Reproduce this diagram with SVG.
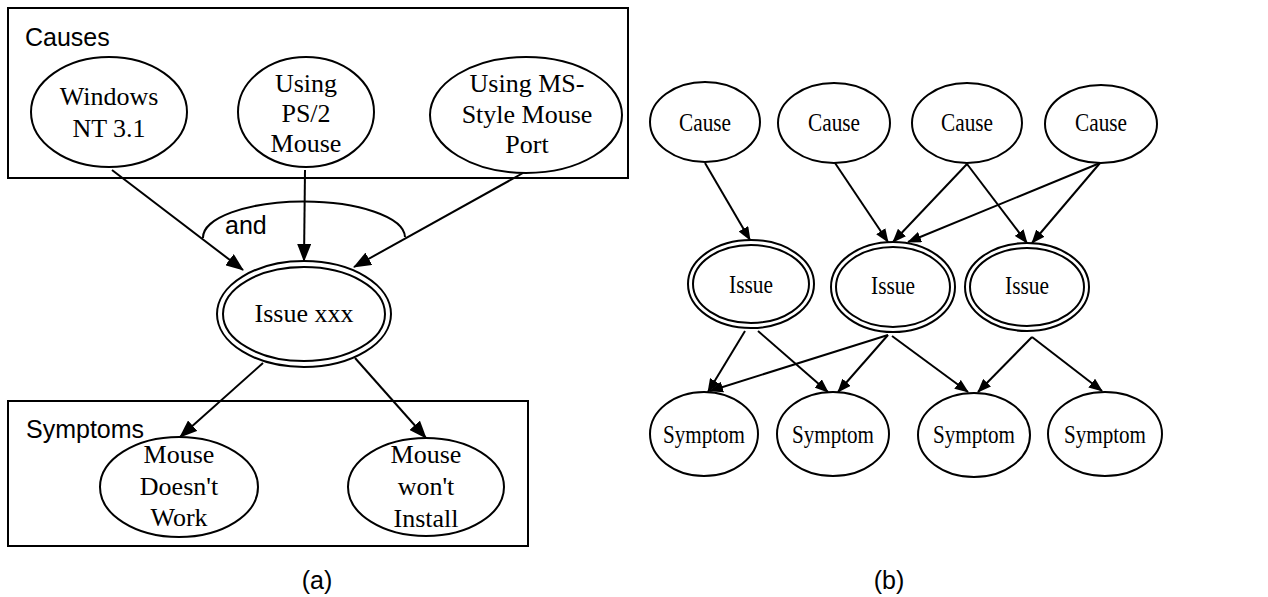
<svg xmlns="http://www.w3.org/2000/svg" width="1268" height="597" viewBox="0 0 1268 597">
<style>
.n{fill:#fff;stroke:#000;stroke-width:2}
.box{fill:none;stroke:#000;stroke-width:2}
.e{fill:none;stroke:#000;stroke-width:2}
.s{font-family:"Liberation Serif","Times New Roman",serif;font-size:26px;fill:#000;text-anchor:middle}
.sb{font-family:"Liberation Serif","Times New Roman",serif;font-size:26px;fill:#000;text-anchor:middle}
.h{font-family:"Liberation Sans",Arial,sans-serif;font-size:25px;fill:#000}
</style>
<defs>
<marker id="ah" markerUnits="userSpaceOnUse" markerWidth="18" markerHeight="14" refX="17" refY="7" orient="auto">
<path d="M0,0 L18,7 L0,14 z" fill="#000"/>
</marker>
<marker id="ahs" markerUnits="userSpaceOnUse" markerWidth="14" markerHeight="11" refX="13" refY="5.5" orient="auto">
<path d="M0,0 L14,5.5 L0,11 z" fill="#000"/>
</marker>
</defs>
<rect width="1268" height="597" fill="#fff"/>

<g id="panel-a">
<g id="causes-box"><rect class="box" x="8" y="8" width="620" height="170"/><text class="h" x="25" y="46">Causes</text></g>
<g id="symptoms-box"><rect class="box" x="8" y="401" width="520" height="145"/><text class="h" x="26" y="438">Symptoms</text></g>

<g id="a-connectors">
<line class="e" x1="112" y1="170" x2="243" y2="270" marker-end="url(#ah)"/>
<line class="e" x1="305" y1="170" x2="304" y2="261" marker-end="url(#ah)"/>
<line class="e" x1="523" y1="173" x2="354" y2="267" marker-end="url(#ah)"/>
<line class="e" x1="263" y1="363" x2="180" y2="437" marker-end="url(#ah)"/>
<line class="e" x1="355" y1="358" x2="426" y2="438" marker-end="url(#ah)"/>
<path class="e" d="M203,238 A101,36 0 0 1 405,237"/>
<text class="h" x="225" y="234">and</text>
</g>

<g id="windows"><ellipse class="n" cx="109" cy="112" rx="78" ry="55"/><text class="s" x="109" y="105">Windows</text><text class="s" x="109" y="137">NT 3.1</text></g>
<g id="ps2"><ellipse class="n" cx="306" cy="112" rx="68" ry="55"/><text class="s" x="306" y="92">Using</text><text class="s" x="306" y="122">PS/2</text><text class="s" x="306" y="152">Mouse</text></g>
<g id="msport"><ellipse class="n" cx="526" cy="115" rx="96" ry="58"/><text class="s" x="527" y="92">Using MS-</text><text class="s" x="527" y="123">Style Mouse</text><text class="s" x="527" y="153">Port</text></g>
<g id="issuexxx"><ellipse class="n" cx="304" cy="314" rx="87" ry="53"/><ellipse class="n" cx="304" cy="314" rx="81" ry="47"/><text class="s" x="304" y="322">Issue xxx</text></g>
<g id="doesntwork"><ellipse class="n" cx="179" cy="487" rx="79" ry="50"/><text class="s" x="179" y="463">Mouse</text><text class="s" x="179" y="495">Doesn't</text><text class="s" x="179" y="526">Work</text></g>
<g id="wontinstall"><ellipse class="n" cx="426" cy="487" rx="78" ry="49"/><text class="s" x="426" y="463">Mouse</text><text class="s" x="426" y="495">won't</text><text class="s" x="426" y="527">Install</text></g>
<text class="h" x="317" y="589" text-anchor="middle">(a)</text>
</g>

<g id="panel-b">
<g id="b-connectors">
<line class="e" x1="705" y1="163" x2="750" y2="240" marker-end="url(#ahs)"/>
<line class="e" x1="835" y1="163" x2="888" y2="242" marker-end="url(#ahs)"/>
<line class="e" x1="967" y1="164" x2="893" y2="242" marker-end="url(#ahs)"/>
<line class="e" x1="967" y1="164" x2="1027" y2="243" marker-end="url(#ahs)"/>
<line class="e" x1="1100" y1="163" x2="908" y2="242" marker-end="url(#ahs)"/>
<line class="e" x1="1100" y1="163" x2="1032" y2="243" marker-end="url(#ahs)"/>
<line class="e" x1="745" y1="331" x2="708" y2="392" marker-end="url(#ahs)"/>
<line class="e" x1="758" y1="331" x2="828" y2="392" marker-end="url(#ahs)"/>
<line class="e" x1="888" y1="335" x2="710" y2="391" marker-end="url(#ahs)"/>
<line class="e" x1="888" y1="335" x2="838" y2="392" marker-end="url(#ahs)"/>
<line class="e" x1="892" y1="336" x2="968" y2="392" marker-end="url(#ahs)"/>
<line class="e" x1="1032" y1="337" x2="978" y2="392" marker-end="url(#ahs)"/>
<line class="e" x1="1032" y1="337" x2="1102" y2="391" marker-end="url(#ahs)"/>
</g>
<g id="cause1"><ellipse class="n" cx="705" cy="122" rx="55" ry="40"/><text class="sb" x="705" y="131" textLength="52" lengthAdjust="spacingAndGlyphs">Cause</text></g>
<g id="cause2"><ellipse class="n" cx="834" cy="123" rx="56" ry="40"/><text class="sb" x="834" y="131" textLength="52" lengthAdjust="spacingAndGlyphs">Cause</text></g>
<g id="cause3"><ellipse class="n" cx="967" cy="123" rx="55" ry="40"/><text class="sb" x="967" y="131" textLength="52" lengthAdjust="spacingAndGlyphs">Cause</text></g>
<g id="cause4"><ellipse class="n" cx="1101" cy="124" rx="56" ry="39"/><text class="sb" x="1101" y="131" textLength="52" lengthAdjust="spacingAndGlyphs">Cause</text></g>
<g id="issue1"><ellipse class="n" cx="751" cy="284" rx="63" ry="44"/><ellipse class="n" cx="751" cy="284" rx="58" ry="39"/><text class="sb" x="751" y="293" textLength="44" lengthAdjust="spacingAndGlyphs">Issue</text></g>
<g id="issue2"><ellipse class="n" cx="893" cy="287" rx="62" ry="45"/><ellipse class="n" cx="893" cy="287" rx="57" ry="40"/><text class="sb" x="893" y="294" textLength="44" lengthAdjust="spacingAndGlyphs">Issue</text></g>
<g id="issue3"><ellipse class="n" cx="1027" cy="287" rx="62" ry="44"/><ellipse class="n" cx="1027" cy="287" rx="57" ry="39"/><text class="sb" x="1027" y="294" textLength="44" lengthAdjust="spacingAndGlyphs">Issue</text></g>
<g id="symptom1"><ellipse class="n" cx="704" cy="434" rx="54" ry="42"/><text class="sb" x="704" y="443" textLength="82" lengthAdjust="spacingAndGlyphs">Symptom</text></g>
<g id="symptom2"><ellipse class="n" cx="833" cy="434" rx="56" ry="42"/><text class="sb" x="833" y="443" textLength="82" lengthAdjust="spacingAndGlyphs">Symptom</text></g>
<g id="symptom3"><ellipse class="n" cx="974" cy="435" rx="56" ry="42"/><text class="sb" x="974" y="443" textLength="82" lengthAdjust="spacingAndGlyphs">Symptom</text></g>
<g id="symptom4"><ellipse class="n" cx="1105" cy="434" rx="57" ry="42"/><text class="sb" x="1105" y="443" textLength="82" lengthAdjust="spacingAndGlyphs">Symptom</text></g>
<text class="h" x="889" y="589" text-anchor="middle">(b)</text>
</g>
</svg>
